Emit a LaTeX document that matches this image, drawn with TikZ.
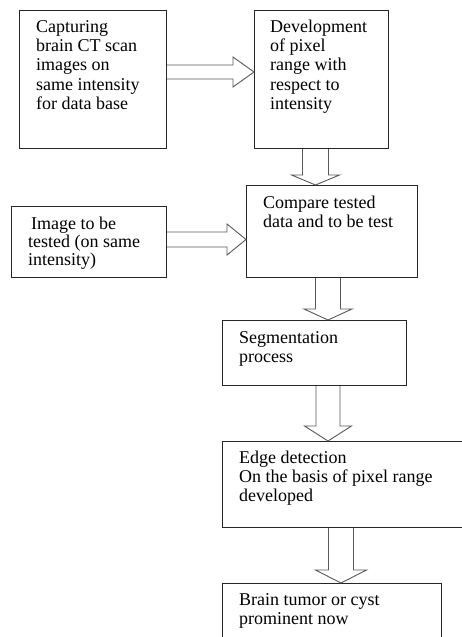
\documentclass[tikz,border=0pt]{standalone}
\usepackage{fontspec}
\setmainfont{Liberation Serif}
\usetikzlibrary{calc}
\newcommand\harr[5]{\draw[barrow] ($(#1)+(0,-#3)$) -- ($(#2)+(-#5,-#3)$) -- ($(#2)+(-#5,-#4)$) -- (#2) -- ($(#2)+(-#5,#4)$) -- ($(#2)+(-#5,#3)$) -- ($(#1)+(0,#3)$);}
\newcommand\varr[5]{\draw[barrow] ($(#1)+(-#3,0)$) -- ($(#2)+(-#3,-#5)$) -- ($(#2)+(-#4,-#5)$) -- (#2) -- ($(#2)+(#4,-#5)$) -- ($(#2)+(#3,-#5)$) -- ($(#1)+(#3,0)$);}
\begin{document}
\begin{tikzpicture}[x=1pt,y=-1pt,
  box/.style={draw=black!85,line width=1pt,inner sep=0pt,anchor=north west},
  txt/.style={anchor=base west,align=left,inner sep=0pt,font=\fontsize{18}{19.25}\selectfont},
  barrow/.style={draw=black!65,fill=white,line width=0.9pt,line join=miter}]
\useasboundingbox (0,0) rectangle (461,637);
% boxes
\node[box,minimum width=147pt,minimum height=138pt] (b1) at (19,10) {};
\node[box,minimum width=134pt,minimum height=138pt] (b2) at (254,10) {};
\node[box,minimum width=171pt,minimum height=92pt] (b3) at (246,185) {};
\node[box,minimum width=155pt,minimum height=71pt] (b4) at (11,206) {};
\node[box,minimum width=184pt,minimum height=65pt] (b5) at (222,320) {};
\node[box,minimum width=250pt,minimum height=86pt] (b6) at (222,441) {};
\node[box,minimum width=219pt,minimum height=70pt] (b7) at (222,583) {};
% texts (anchored at the baseline of their last line)
\node[txt] (t1) at (36,109.3) {Capturing\\brain CT scan\\images on\\same intensity\\for data base};
\node[txt] (t2) at (270,109.3) {Development\\of pixel\\range with\\respect to\\intensity};
\node[txt] (t3) at (263,227.5) {Compare tested\\data and to be test};
\node[txt,font=\fontsize{18}{18}\selectfont] (t4) at (28,265) {\hspace*{3pt}Image to be\\tested (on same\\intensity)};
\node[txt] (t5) at (239,362.5) {Segmentation\\process};
\node[txt] (t6) at (239,501.5) {Edge detection\\On the basis of pixel range\\developed};
\node[txt] (t7) at (239,624.5) {Brain tumor or cyst\\prominent now};
% arrow anchors
\coordinate (a1s) at (b1.east |- 0,72);
\coordinate (a1t) at (b2.west |- a1s);
\coordinate (a2s) at (b2.south -| 315.5,0);
\coordinate (a2t) at (b3.north -| a2s);
\coordinate (a3s) at (b4.east |- 0,239.5);
\coordinate (a3t) at (b3.west |- a3s);
\coordinate (a4s) at (b3.south -| 328,0);
\coordinate (a4t) at (b5.north -| a4s);
\coordinate (a5s) at (b5.south -| 328,0);
\coordinate (a5t) at (b6.north -| a5s);
\coordinate (a6s) at (b6.south -| 341,0);
\coordinate (a6t) at (b7.north -| a6s);
% block arrows
\harr{a1s}{a1t}{7}{15}{21}
\varr{a2s}{a2t}{13}{24}{10}
\harr{a3s}{a3t}{7.5}{15.5}{19}
\varr{a4s}{a4t}{12.5}{24}{11}
\varr{a5s}{a5t}{12}{23.5}{15}
\varr{a6s}{a6t}{12.5}{25.5}{13}
\end{tikzpicture}
\end{document}
